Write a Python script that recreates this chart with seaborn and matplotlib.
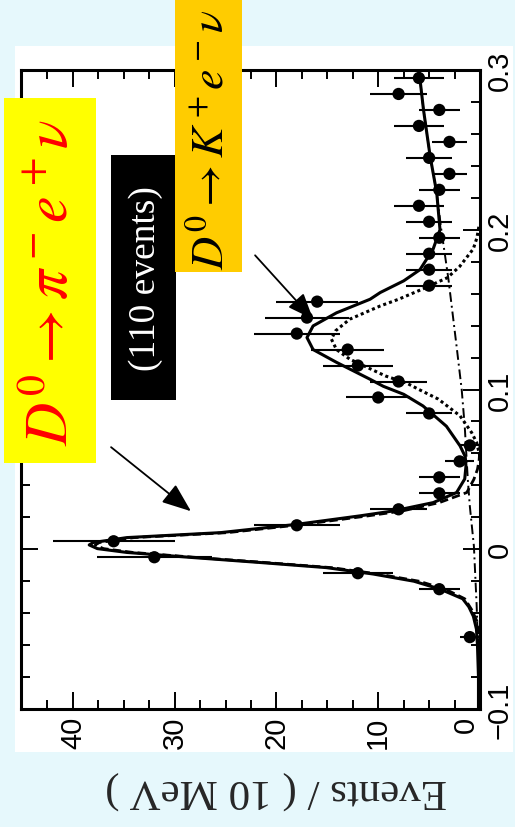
import numpy as np
import matplotlib
matplotlib.use("Agg")
import matplotlib.pyplot as plt
import seaborn as sns
from matplotlib import font_manager as fm
from matplotlib.patches import Rectangle
from matplotlib.ticker import FixedLocator, MultipleLocator

# ---------------- data ----------------
u_bins = [-0.055, -0.025, -0.015, -0.005, 0.005, 0.015, 0.025, 0.035, 0.045, 0.055,
          0.065, 0.085, 0.095, 0.105, 0.115, 0.125, 0.135, 0.145, 0.155, 0.165,
          0.175, 0.185, 0.195, 0.205, 0.215, 0.225, 0.235, 0.245, 0.255, 0.265,
          0.275, 0.285, 0.295]
events = [1, 4, 12, 32, 36, 18, 8, 4, 4, 2,
          1, 5, 10, 8, 12, 13, 18, 17, 16, 5,
          5, 5, 4, 5, 6, 4, 3, 5, 3, 6,
          4, 8, 6]
event_err = [1.0, 2.0, 3.46, 5.66, 6.0, 4.24, 2.83, 2.0, 2.0, 1.41,
             1.0, 2.24, 3.16, 2.83, 3.46, 3.61, 4.24, 4.12, 4.0, 2.24,
             2.24, 2.24, 2.0, 2.24, 2.45, 2.0, 1.73, 2.24, 1.73, 2.45,
             2.0, 2.83, 2.45]

# total fit (solid)
total_u = [-0.100, -0.080, -0.060, -0.050, -0.042, -0.036, -0.031, -0.025, -0.020, -0.0155,
           -0.0115, -0.0083, -0.0052, -0.0020, 0.0004, 0.0027, 0.0042, 0.0073, 0.0104, 0.0156,
           0.0209, 0.0240, 0.0292, 0.0355, 0.0440, 0.0520, 0.0580, 0.0647, 0.0770, 0.0897,
           0.0970, 0.1020, 0.1064, 0.1170, 0.1250, 0.1325, 0.1398, 0.1480, 0.1565, 0.1607,
           0.1680, 0.1750, 0.1880, 0.2000, 0.2230, 0.2460, 0.2750, 0.3000]
total_ev = [0.15, 0.15, 0.25, 0.35, 0.65, 1.1, 1.7, 3.9, 6.5, 10.5,
            15.1, 21.6, 28.2, 34.7, 37.6, 38.4, 38.0, 34.7, 25.5, 18.0,
            11.8, 8.5, 4.6, 2.3, 1.5, 1.38, 1.45, 1.96, 3.3, 5.6,
            7.5, 9.5, 10.8, 14.1, 16.4, 17.0, 16.4, 14.1, 10.8, 9.8,
            7.5, 5.9, 4.6, 3.93, 4.25, 4.9, 5.55, 6.0]

# D0 -> pi e nu component (dashed)
pienu_u = [-0.100, -0.060, -0.045, -0.038, -0.031, -0.025, -0.020, -0.0155, -0.0115, -0.0083,
           -0.0052, -0.0020, 0.0004, 0.0027, 0.0042, 0.0073, 0.0104, 0.0156, 0.0209, 0.0240,
           0.0292, 0.0355, 0.0438, 0.0500, 0.0560, 0.0650]
pienu_ev = [0.0, 0.05, 0.3, 0.8, 1.5, 3.4, 6.0, 10.0, 14.6, 21.1,
            27.7, 34.1, 37.0, 37.8, 37.4, 34.0, 24.8, 17.3, 11.0, 7.6,
            4.0, 1.3, 0.6, 0.25, 0.08, 0.0]

# D0 -> K e nu component (dotted)
kenu_u = [0.058, 0.0668, 0.073, 0.0835, 0.094, 0.100, 0.104, 0.1085, 0.119, 0.125,
          0.1315, 0.1367, 0.144, 0.1523, 0.1565, 0.163, 0.170, 0.177, 0.188, 0.195, 0.2024]
kenu_ev = [0.0, 0.33, 0.82, 1.96, 4.1, 6.0, 7.2, 9.3, 12.8, 14.1,
           14.6, 14.2, 12.8, 9.8, 8.0, 5.6, 3.2, 2.0, 0.66, 0.3, 0.1]

# background (dash-dot)
bkg_u = [-0.100, -0.060, -0.035, 0.002, 0.027, 0.0438, 0.077, 0.100, 0.127, 0.169,
         0.200, 0.223, 0.246, 0.275, 0.300]
bkg_ev = [0.05, 0.2, 0.33, 0.6, 1.0, 1.2, 1.5, 1.8, 2.3, 3.1,
          3.8, 4.25, 4.9, 5.55, 6.0]

u_ticks = [-0.1, 0.0, 0.1, 0.2, 0.3]
u_ticklabels = ["\u22120.1", "0", "0.1", "0.2", "0.3"]
ev_ticks = [0, 10, 20, 30, 40]
ev_ticklabels = ["0", "10", "20", "30", "40"]

y_label = "Events / ( 10 MeV )"
label_pi = r"$D^0 \rightarrow \pi^- e^+ \nu$"
label_k = r"$D^0 \rightarrow K^+ e^- \nu$"
label_n = "(110 events)"


def has_font(name):
    try:
        fm.findfont(fm.FontProperties(family=name), fallback_to_default=False)
        return True
    except Exception:
        return False


tick_family = "Liberation Sans Narrow" if has_font("Liberation Sans Narrow") else "Liberation Sans"

# ---------------- figure ----------------
sns.set_theme(style="white")
plt.rcParams["font.family"] = ["Liberation Serif", "DejaVu Serif"]
plt.rcParams["mathtext.fontset"] = "stix"
plt.rcParams["axes.unicode_minus"] = True

W, H = 515, 828
fig = plt.figure(figsize=(W / 100, H / 100), dpi=100)
fig.patch.set_facecolor("#e6f8fc")


def fx(px):
    return px / W


def fy(py):
    return 1 - py / H


# white panel behind plot
fig.patches.append(Rectangle((fx(15), fy(753)), fx(513) - fx(15), fy(47) - fy(753),
                             transform=fig.transFigure, facecolor="white",
                             edgecolor="none", zorder=-1))

ax = fig.add_axes([fx(21), fy(710), fx(480) - fx(21), fy(71) - fy(710)])
ax.set_facecolor("white")

# curves
sns.lineplot(x=bkg_ev, y=bkg_u, sort=False, estimator=None, color="black",
             lw=1.4, linestyle=(0, (5, 2, 1, 2)), ax=ax, zorder=2)
sns.lineplot(x=pienu_ev, y=pienu_u, sort=False, estimator=None, color="black",
             lw=2.0, linestyle=(0, (3, 1.5)), ax=ax, zorder=2)
sns.lineplot(x=kenu_ev, y=kenu_u, sort=False, estimator=None, color="black",
             lw=2.2, linestyle=(0, (1, 1)), ax=ax, zorder=2)
sns.lineplot(x=total_ev, y=total_u, sort=False, estimator=None, color="black",
             lw=2.2, ax=ax, zorder=3)

# data points
ax.errorbar(events, u_bins, xerr=event_err, fmt="none", ecolor="black",
            elinewidth=1.5, capsize=0, zorder=4)
sns.scatterplot(x=events, y=u_bins, color="black", s=78, edgecolor="none",
                ax=ax, zorder=5)

ax.set_xlim(45.1, 0)
ax.set_ylim(-0.1, 0.3)

ax.xaxis.set_major_locator(FixedLocator(ev_ticks))
ax.set_xticklabels(ev_ticklabels)
ax.xaxis.set_minor_locator(MultipleLocator(2.5))
ax.yaxis.set_major_locator(FixedLocator(u_ticks))
ax.set_yticklabels(u_ticklabels)
ax.yaxis.set_minor_locator(MultipleLocator(0.02))

ax.tick_params(which="both", direction="in", top=True, bottom=True, left=True,
               right=True, width=1.4, color="black")
ax.tick_params(which="major", length=12.2)
ax.tick_params(which="minor", length=6.5)
ax.tick_params(axis="y", labelleft=False, labelright=True, labelrotation=90, pad=4)
ax.tick_params(axis="x", labelrotation=90, pad=5)
for lbl in ax.get_xticklabels() + ax.get_yticklabels():
    lbl.set_fontfamily(tick_family)
    lbl.set_fontsize(21)
    lbl.set_color("black")
for lbl in ax.get_yticklabels():
    lbl.set_va("center")
# the "0" label at the corner sits just left of its tick, as in the reference
ax.get_xticklabels()[0].set_ha("right")

for sp in ax.spines.values():
    sp.set_linewidth(2.2)
    sp.set_color("black")

ax.set_ylabel("")
ax.set_xlabel(y_label, rotation=180, fontsize=31, va="center", ha="center",
              fontfamily=["Liberation Serif", "DejaVu Serif"])
ax.xaxis.set_label_coords((276 - 21) / 459, (710 - 790) / 639)

# arrows (data coordinates)
ax.annotate("", xy=(28.4, 0.0238), xytext=(36.25, 0.0639),
            arrowprops=dict(arrowstyle="-|>,head_length=0.9,head_width=0.35",
                            color="black", lw=1.3, mutation_scale=20,
                            shrinkA=0, shrinkB=0),
            annotation_clip=False, zorder=6)
ax.annotate("", xy=(16.4, 0.144), xytext=(22.1, 0.184),
            arrowprops=dict(arrowstyle="-|>,head_length=0.8,head_width=0.32",
                            color="black", lw=1.3, mutation_scale=20,
                            shrinkA=0, shrinkB=0),
            annotation_clip=False, zorder=6)

# label boxes
def box(x0, y0, x1, y1, color):
    fig.patches.append(Rectangle((fx(x0), fy(y1)), fx(x1) - fx(x0), fy(y0) - fy(y1),
                                 transform=fig.transFigure, facecolor=color,
                                 edgecolor="none", zorder=5))


box(4, 99, 96, 464, "#ffff00")
box(111, 156, 176, 401, "#000000")
box(175, -2, 242, 273, "#ffcc00")

fig.text(fx(52), fy(282), label_pi, color="#ff0000", fontsize=43, rotation=90,
         ha="center", va="center", zorder=7)
fig.text(fx(146), fy(279), label_n, color="white", fontsize=27, rotation=90,
         ha="center", va="center", zorder=7,
         fontfamily=["Liberation Serif", "DejaVu Serif"])
fig.text(fx(212), fy(140), label_k, color="black", fontsize=33, rotation=90,
         ha="center", va="center", zorder=7)

fig.savefig("out.png", dpi=100, facecolor=fig.get_facecolor())
